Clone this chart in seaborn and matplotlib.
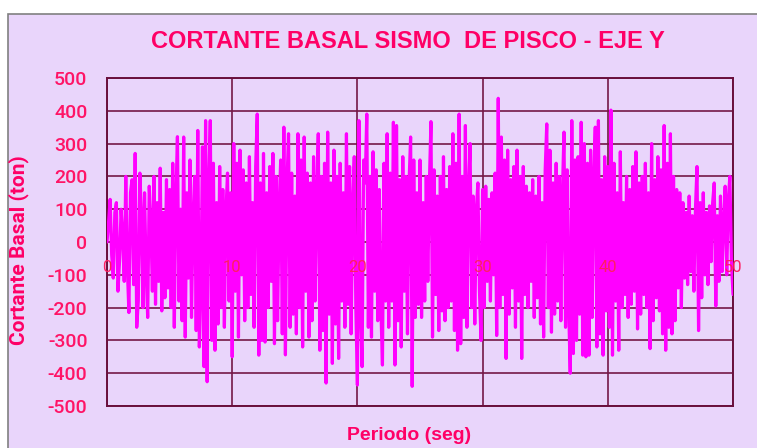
import numpy as np
import pandas as pd
import matplotlib
matplotlib.use("Agg")
import matplotlib.pyplot as plt
import seaborn as sns
from matplotlib.patches import Rectangle

cortante = [
    0, 60, 130, -40, -110, 90, 120, -150, -60, 100, 20, -120, 200, -80, -215, 150, 190, -130, 270, -260,
    -180, 210, 80, -200, 150, -90, -230, 170, 60, -150, 200, -190, 120, -120, 225, -210, 90, -170, 190, -140,
    160, -200, 240, -260, 130, 321, -180, 100, -240, 320, -290, 150, -110, 250, -230, 80, 200, -270, 340, -320,
    -150, 290, -380, 370, -426, 180, 370, -300, 240, -330, 120, -250, 230, -200, 160, -260, 90, 210, -180, 150,
    -350, 300, -150, 240, -290, 280, -100, 220, -240, 180, -200, 260, -160, 120, -260, 230, 390, -345, 180, -300,
    270, -305, 150, -200, 230, -120, 270, -310, 200, -240, 110, 250, -280, 350, -344, 180, 330, -260, 210, -220,
    140, -280, 330, -200, 250, -320, 320, -150, 210, -290, 180, -240, 260, -180, 150, 330, -330, 200, -270, 240,
    -430, 335, -220, 180, -370, 280, -250, 200, -355, 240, -180, 150, -260, 330, -190, 230, -280, 120, 260, -200,
    -436, 370, -220, -380, 250, 180, 390, -260, 200, -290, 275, -150, 220, -240, 160, -200, -375, 240, -180, 330,
    -260, 210, -180, 365, -375, 355, -240, 190, -320, 260, -150, 200, -280, 180, 320, -440, 250, -230, 150, -190,
    250, -230, 120, -180, 200, -120, 180, 367, -290, 220, -160, 140, -270, 200, -210, 260, -240, 160, -200, 230,
    -180, 330, -270, 240, -330, 390, -310, 200, -230, 355, -260, 160, 300, -200, 140, -250, 100, 180, -150, -300,
    160, -200, 170, -120, 130, -180, 150, -100, 210, -285, 438, -200, 320, -160, 250, -355, 280, -220, 190, -140,
    230, -260, 280, -180, 200, -355, 230, -160, 170, -200, 150, -120, 190, -230, 140, -170, 200, -250, 120, -290,
    220, 360, -200, 280, -275, 180, -220, 240, -180, 200, -240, 150, 335, -260, 220, -200, -400, 370, -340, 250,
    -300, 260, -220, 365, -345, 300, -350, 240, -345, 280, -230, 200, 350, -320, 370, -280, 190, -345, 260, -210,
    230, -260, 402, -345, 240, -180, 150, -330, 275, -200, 120, -160, 200, -230, 160, -190, 230, -150, 275, -265,
    180, -220, 200, -160, 240, -200, 150, -325, 300, -240, 190, -170, 260, -210, 220, -280, 355, -330, 240, -260,
    330, -280, 200, -240, 160, -140, 150, -200, 120, -110, 90, -130, 140, -90, 80, -150, 100, 230, -270, 120,
    -170, 150, -100, 90, -130, 110, -60, 120, 180, -195, 80, -120, 140, -90, 60, 170, -100, 130, 200, -60,
    -160,
]
tiempo = np.linspace(0, 50, len(cortante))

x_ticks = [0, 10, 20, 30, 40, 50]
y_ticks = [-500, -400, -300, -200, -100, 0, 100, 200, 300, 400, 500]

BG = "#E9D5FB"
PINK = "#FF0066"
GRID = "#741846"

df = pd.DataFrame({"Periodo": tiempo, "Cortante": cortante})

sns.set_style("white")
plt.rcParams["axes.unicode_minus"] = False
plt.rcParams["font.family"] = ["Roboto", "DejaVu Sans"]

fig = plt.figure(figsize=(7.57, 4.48), dpi=100)
fig.patch.set_facecolor("white")
fig.patches.append(Rectangle((8 / 757, -0.1), 1.1, (448 - 14) / 448 + 0.1,
                             transform=fig.transFigure, facecolor=BG,
                             edgecolor="#808080", linewidth=1.2, zorder=-5))

ax = fig.add_axes([107 / 757, (448 - 406) / 448, 626 / 757, 328 / 448])
ax.set_zorder(2)
ax.set_facecolor(BG)

sns.lineplot(data=df, x="Periodo", y="Cortante", ax=ax, color="#FF00FF",
             linewidth=2.3, estimator=None, sort=False, zorder=3)

ax.set_xlim(0, 50)
ax.set_ylim(-500, 500)
ax.set_xticks(x_ticks)
ax.set_yticks(y_ticks)
ax.grid(True, color=GRID, linewidth=1.2, zorder=1)
ax.set_axisbelow(True)
for s in ax.spines.values():
    s.set_color("#6A0F3C")
    s.set_linewidth(1.4)

ax.tick_params(axis="y", length=0, pad=14, labelsize=14, labelcolor="#FF1466")
for lab in ax.get_yticklabels():
    lab.set_fontweight("medium")
ax.tick_params(axis="x", length=0, labelbottom=False)
for xt in x_ticks:
    ax.text(xt, -79, str(xt), ha="center", va="center", fontsize=12,
            color="#FF1E62", zorder=5)

ax.set_ylabel("Cortante Basal (ton)", fontsize=15, fontweight="bold", color=PINK)
ax.yaxis.set_label_coords(-0.125, 0.475)
ax.set_xlabel("Periodo (seg)", fontsize=14, fontweight="bold",
              color=PINK, family=["Liberation Sans", "DejaVu Sans"])
ax.xaxis.set_label_coords(0.483, -0.065)

fig.text(408 / 757, 1 - 42 / 448, "CORTANTE BASAL SISMO  DE PISCO - EJE Y",
         ha="center", va="center", fontsize=17, fontweight="bold",
         color=PINK, family=["Liberation Sans", "DejaVu Sans"])

fig.savefig("out.png", dpi=100, facecolor=fig.get_facecolor())
plt.close(fig)
